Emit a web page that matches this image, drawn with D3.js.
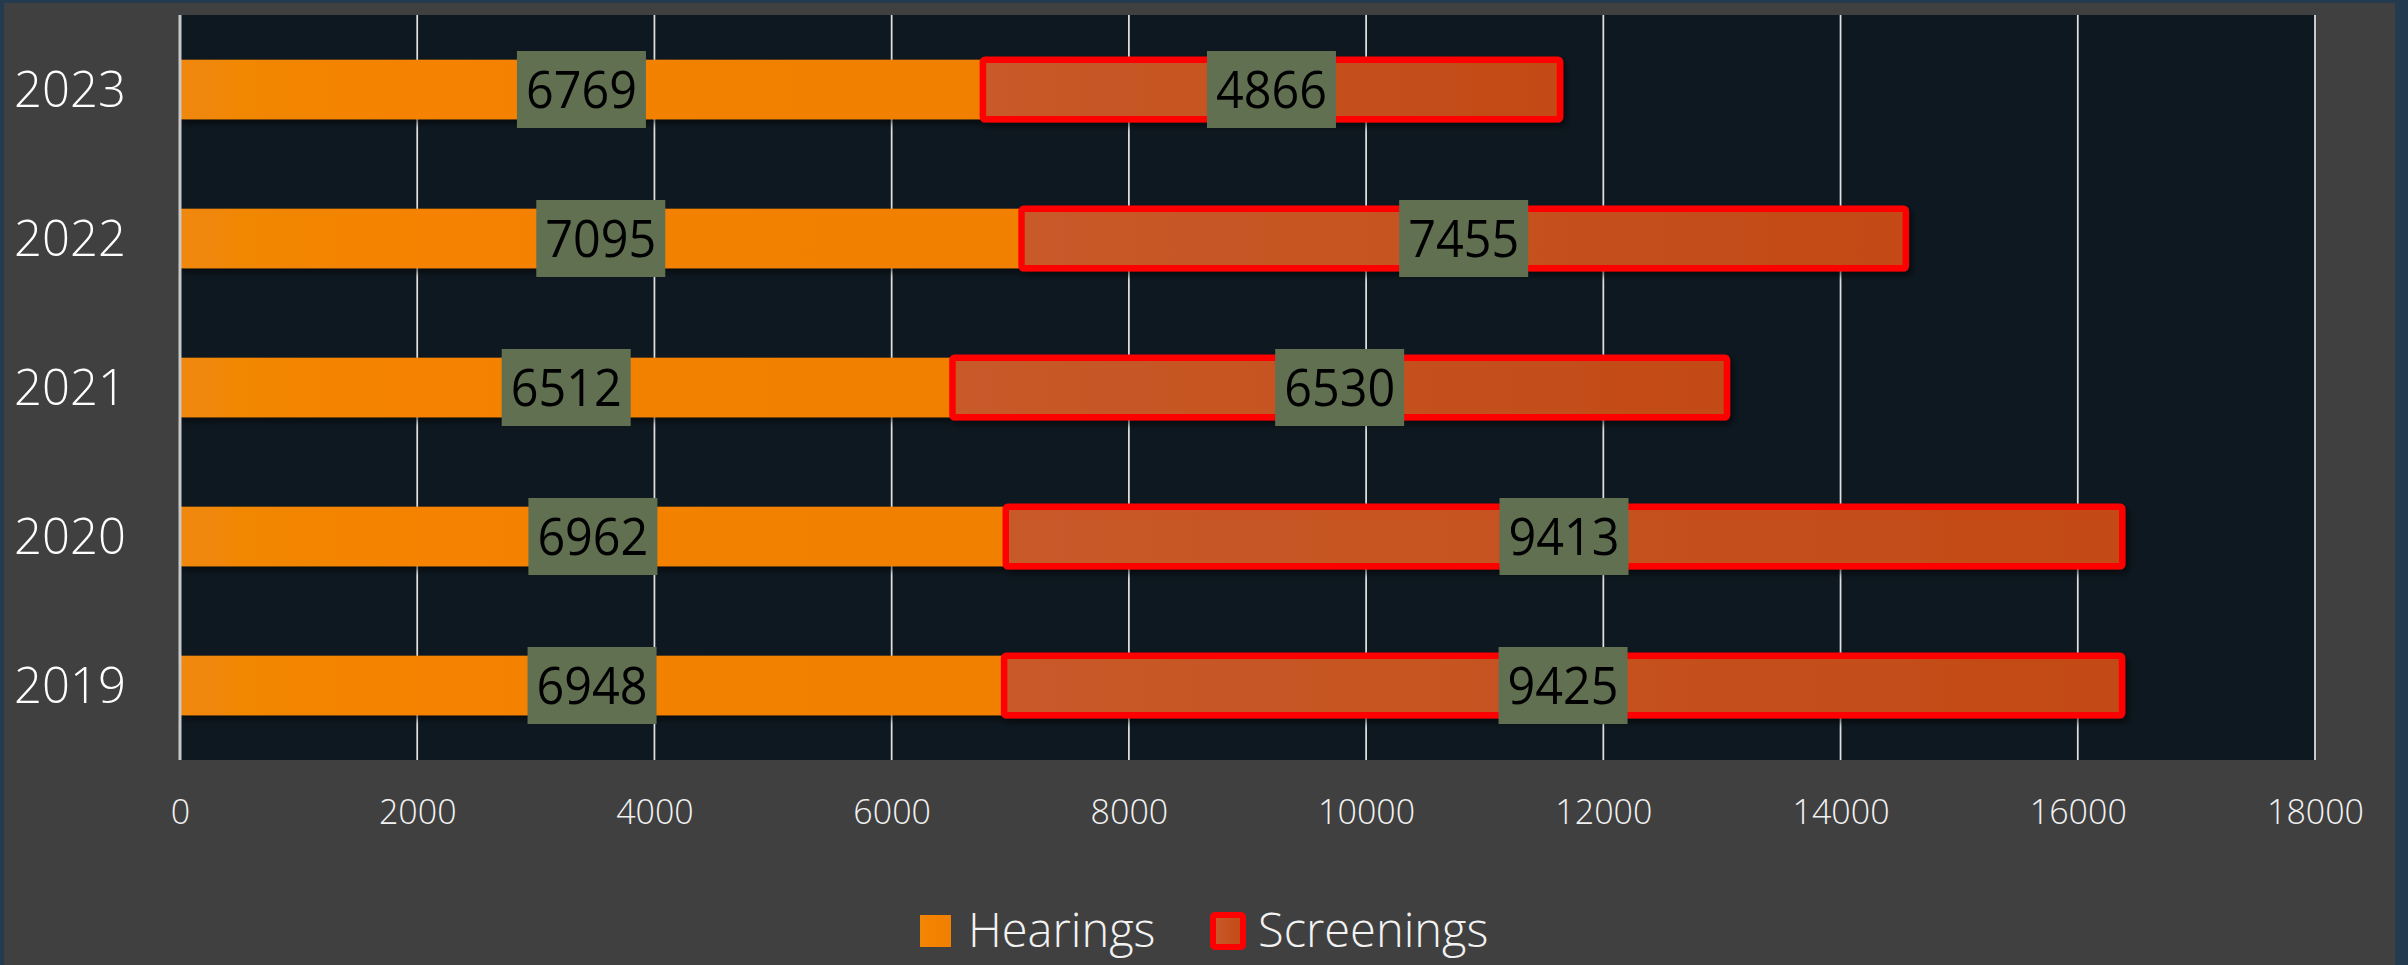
<!DOCTYPE html>
<html>
<head>
<meta charset="utf-8">
<script src="https://cdn.jsdelivr.net/npm/d3@7"></script>
<style>
  html, body { margin: 0; padding: 0; background: #243A4F; }
  svg { display: block; }
</style>
</head>
<body>
<script>
// ---- data ----
const categories = ["2023", "2022", "2021", "2020", "2019"];
const hearings   = [6769, 7095, 6512, 6962, 6948];
const screenings = [4866, 7455, 6530, 9413, 9425];
const xTicks     = [0, 2000, 4000, 6000, 8000, 10000, 12000, 14000, 16000, 18000];
const seriesNames = ["Hearings", "Screenings"];

const W = 2408, H = 965;
const plot = { left: 180, right: 2315, top: 15, bottom: 760 };
const font = "'Open Sans', 'Noto Sans', sans-serif";

const svg = d3.select("body").append("svg").attr("width", W).attr("height", H);
const defs = svg.append("defs");

const gH = defs.append("linearGradient").attr("id", "gradH");
gH.append("stop").attr("offset", "0%").attr("stop-color", "#F08808");
gH.append("stop").attr("offset", "30%").attr("stop-color", "#F58200");
gH.append("stop").attr("offset", "100%").attr("stop-color", "#F18000");
const gS = defs.append("linearGradient").attr("id", "gradS");
gS.append("stop").attr("offset", "0%").attr("stop-color", "#C85A2A");
gS.append("stop").attr("offset", "100%").attr("stop-color", "#C34A16");

const sh = defs.append("filter").attr("id", "shadow")
  .attr("x", "-5%").attr("y", "-30%").attr("width", "115%").attr("height", "170%");
sh.append("feDropShadow").attr("dx", 3).attr("dy", 4).attr("stdDeviation", 3)
  .attr("flood-color", "#000").attr("flood-opacity", 0.55);

// background
svg.append("rect").attr("x", 0).attr("y", 0).attr("width", W).attr("height", H).attr("fill", "#243A4F");
svg.append("rect").attr("x", 4).attr("y", 3).attr("width", 2391).attr("height", H - 3).attr("fill", "#404040");
svg.append("rect").attr("x", plot.left).attr("y", plot.top)
  .attr("width", plot.right - plot.left).attr("height", plot.bottom - plot.top).attr("fill", "#0E1820");

// scales
const x = d3.scaleLinear().domain([0, 18000]).range([plot.left, plot.right]);
const y = d3.scaleBand().domain(categories).range([plot.top, plot.bottom])
  .paddingInner(0.6).paddingOuter(0.3);

// gridlines
svg.append("g").selectAll("line").data(xTicks.filter(d => d > 0)).join("line")
  .attr("x1", d => x(d)).attr("x2", d => x(d))
  .attr("y1", plot.top).attr("y2", plot.bottom)
  .attr("stroke", "#E0E0E0").attr("stroke-width", 1.75);

// x axis labels via d3 axis
const xAxis = d3.axisBottom(x).tickValues(xTicks).tickSize(0).tickPadding(0).tickFormat(d3.format("d"));
const gx = svg.append("g").attr("transform", `translate(0, ${plot.bottom})`).call(xAxis);
gx.select(".domain").remove();
gx.selectAll("text").attr("font-family", font).attr("font-size", 34).attr("font-weight", 300)
  .attr("fill", "#F2F2F2").attr("dy", null).attr("y", 64);

// y axis labels
const yAxis = d3.axisLeft(y).tickSize(0).tickPadding(0);
const gy = svg.append("g").attr("transform", `translate(${plot.left - 54}, 0)`).call(yAxis);
gy.select(".domain").remove();
gy.selectAll("text").attr("font-family", font).attr("font-size", 49).attr("font-weight", 300)
  .attr("fill", "#FFFFFF").attr("dy", "0.35em");

const rows = categories.map((c, i) => ({ cat: c, h: hearings[i], s: screenings[i] }));

// bars
const bars = svg.append("g").attr("filter", "url(#shadow)");
bars.selectAll("rect.h").data(rows).join("rect").attr("class", "h")
  .attr("x", x(0)).attr("y", d => y(d.cat))
  .attr("width", d => x(d.h) - x(0)).attr("height", y.bandwidth())
  .attr("fill", "url(#gradH)");
bars.selectAll("rect.s").data(rows).join("rect").attr("class", "s")
  .attr("x", d => x(d.h)).attr("y", d => y(d.cat))
  .attr("width", d => x(d.h + d.s) - x(d.h)).attr("height", y.bandwidth())
  .attr("rx", 2).attr("fill", "url(#gradS)")
  .attr("stroke", "#FF0000").attr("stroke-width", 6.5).attr("stroke-linejoin", "round");

// axis line at 0
svg.append("line").attr("x1", x(0)).attr("x2", x(0)).attr("y1", plot.top).attr("y2", plot.bottom)
  .attr("stroke", "#C8C8C8").attr("stroke-width", 3);

// data labels
const labels = [];
rows.forEach(d => {
  labels.push({ cx: x(d.h / 2), cy: y(d.cat) + y.bandwidth() / 2, v: d.h });
  labels.push({ cx: x(d.h + d.s / 2), cy: y(d.cat) + y.bandwidth() / 2, v: d.s });
});
const lg = svg.append("g");
const bw = 129, bh = 77;
lg.selectAll("rect").data(labels).join("rect")
  .attr("x", d => d.cx - bw / 2).attr("y", d => d.cy - bh / 2)
  .attr("width", bw).attr("height", bh).attr("fill", "#627052");
lg.selectAll("text").data(labels).join("text")
  .attr("x", d => d.cx).attr("y", d => d.cy).attr("dy", "0.36em")
  .attr("text-anchor", "middle").attr("font-family", font).attr("font-size", 52)
  .attr("fill", "#000").attr("textLength", 111).attr("lengthAdjust", "spacingAndGlyphs")
  .text(d => d.v);

// legend
const leg = svg.append("g");
leg.append("rect").attr("x", 920).attr("y", 915).attr("width", 31).attr("height", 32).attr("fill", "url(#gradH)");
leg.append("text").attr("x", 968).attr("y", 947).attr("font-family", font).attr("font-size", 47)
  .attr("font-weight", 300).attr("fill", "#F2F2F2").text(seriesNames[0]);
leg.append("rect").attr("x", 1213).attr("y", 915).attr("width", 30).attr("height", 32)
  .attr("fill", "url(#gradS)").attr("stroke", "#FF0000").attr("stroke-width", 6).attr("rx", 2);
leg.append("text").attr("x", 1258).attr("y", 947).attr("font-family", font).attr("font-size", 47)
  .attr("font-weight", 300).attr("fill", "#F2F2F2").text(seriesNames[1]);
</script>
</body>
</html>
